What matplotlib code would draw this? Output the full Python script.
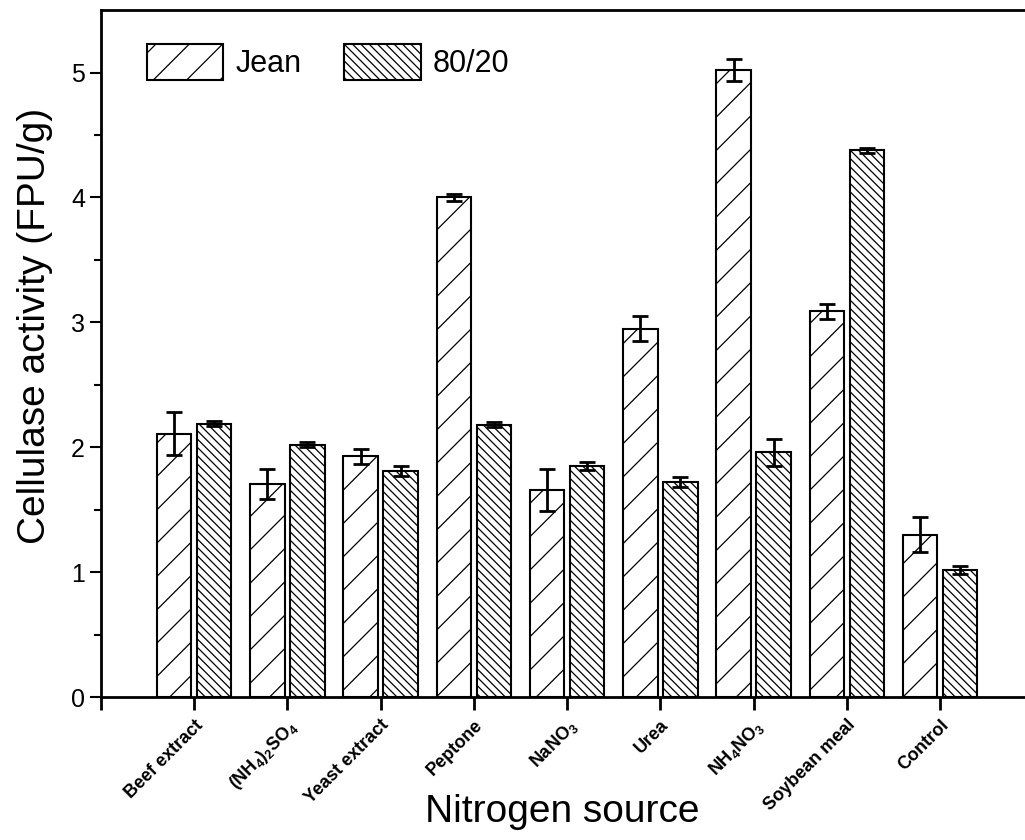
import numpy as np
import matplotlib
matplotlib.use('Agg')
import matplotlib.pyplot as plt

plt.rcParams['font.family'] = ['Liberation Sans', 'DejaVu Sans']
plt.rcParams['mathtext.fontset'] = 'custom'
plt.rcParams['mathtext.rm'] = 'Liberation Sans:bold'
plt.rcParams['mathtext.it'] = 'Liberation Sans:bold'
plt.rcParams['mathtext.bf'] = 'Liberation Sans:bold'
plt.rcParams['hatch.linewidth'] = 0.9

# data
sources = ['Beef extract', r'(NH$_4$)$_2$SO$_4$', 'Yeast extract', 'Peptone',
           r'NaNO$_3$', 'Urea', r'NH$_4$NO$_3$', 'Soybean meal', 'Control']
jean = [2.11, 1.71, 1.93, 4.00, 1.66, 2.95, 5.02, 3.09, 1.30]
jean_err = [0.17, 0.12, 0.06, 0.03, 0.17, 0.10, 0.09, 0.06, 0.14]
blend = [2.19, 2.02, 1.81, 2.18, 1.85, 1.72, 1.96, 4.38, 1.02]
blend_err = [0.02, 0.02, 0.04, 0.02, 0.03, 0.04, 0.11, 0.02, 0.03]

x = np.arange(1, len(sources) + 1)
w = 0.37
off = 0.215

fig = plt.figure(figsize=(10.25, 8.4), dpi=100)
ax = fig.add_axes([0.0985, 0.170, 0.9005, 0.818])

ax.bar(x - off, jean, w, color='white', edgecolor='black', linewidth=1.5,
       hatch='/', label='Jean')
ax.bar(x + off, blend, w, color='white', edgecolor='black', linewidth=1.5,
       hatch='\\\\\\\\', label='80/20')
ax.errorbar(x - off, jean, yerr=jean_err, fmt='none', ecolor='black',
            elinewidth=2, capsize=6, capthick=2)
ax.errorbar(x + off, blend, yerr=blend_err, fmt='none', ecolor='black',
            elinewidth=2, capsize=6, capthick=2)

ax.set_xlim(0, 9.9)
ax.set_ylim(0, 5.5)
ax.set_xticks(np.arange(0, 10))
ax.set_xticklabels([''] + sources, rotation=45, ha='right', rotation_mode='anchor',
                   fontsize=13, fontweight='bold')
ax.set_yticks(np.arange(0, 6))
ax.set_yticks(np.arange(0.5, 5.5, 1), minor=True)
ax.tick_params(axis='y', direction='out', length=8, width=1.5, labelsize=18)
ax.tick_params(axis='y', which='minor', direction='out', length=5, width=1.5)
ax.tick_params(axis='x', direction='out', length=9, width=2, pad=5)

for s in ['left', 'bottom', 'top']:
    ax.spines[s].set_linewidth(2)
ax.spines['right'].set_visible(False)

ax.set_ylabel('Cellulase activity (FPU/g)', fontsize=28)
ax.yaxis.set_label_coords(-0.071, 0.54)
ax.yaxis.label.set_va('center')
ax.set_xlabel('Nitrogen source', fontsize=28)
ax.xaxis.set_label_coords(0.5, -0.181)
ax.xaxis.label.set_va('baseline')

ax.legend(loc='upper left', ncol=2, frameon=False, fontsize=22,
          handlelength=2.5, handleheight=1.4, columnspacing=1.4,
          handletextpad=0.4, bbox_to_anchor=(0.02, 0.99))

fig.savefig('out.png', dpi=100)
